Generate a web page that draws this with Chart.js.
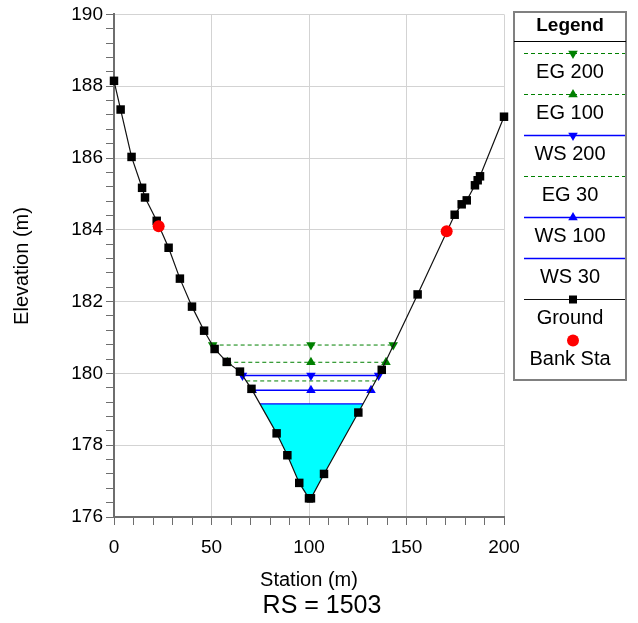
<!DOCTYPE html>
<html>
<head>
<meta charset="utf-8">
<title>RS = 1503</title>
<script src="https://cdn.jsdelivr.net/npm/chart.js@4.4.1/dist/chart.umd.min.js"></script>
<style>
body { margin: 0; background: #fff; }
</style>
</head>
<body>
<canvas id="myChart" width="638" height="623"></canvas>
<script>
//--- Data
var groundSta = [0, 3.4, 9.0, 14.4, 15.9, 21.9, 28.0, 33.8, 40.0, 46.2, 51.6, 57.8, 64.6, 70.5, 83.4, 88.9, 95.0, 100.0, 101.0, 107.7, 125.3, 137.3, 155.7, 174.7, 178.3, 180.9, 185.1, 186.5, 187.7, 200.0];
var groundElev = [188.15, 187.35, 186.03, 185.17, 184.9, 184.25, 183.5, 182.64, 181.86, 181.19, 180.68, 180.32, 180.05, 179.57, 178.33, 177.72, 176.95, 176.52, 176.52, 177.2, 178.91, 180.1, 182.2, 184.42, 184.71, 184.82, 185.24, 185.38, 185.49, 187.15];
var bankSta = [22.9, 170.6];
var bankElev = [184.1, 183.96];

var eg200Sta = [50.6, 101.0, 143.2];
var eg200Elev = 180.79;
var eg100Sta = [58.1, 101.0, 139.5];
var eg100Elev = 180.31;
var ws200Sta = [65.9, 101.0, 135.7];
var ws200Elev = 179.94;
var eg30Sta = [67.8, 134.4];
var eg30Elev = 179.79;
var ws100Sta = [70.9, 101.0, 131.8];
var ws100Elev = 179.53;
var ws30Sta = [74.9, 127.7];
var ws30Elev = 179.15;

var xTicks = [0, 50, 100, 150, 200];
var yTicks = [176, 178, 180, 182, 184, 186, 188, 190];
var legendOrder = ['EG 200', 'EG 100', 'WS 200', 'EG 30', 'WS 100', 'WS 30', 'Ground', 'Bank Sta'];

var FONT = "'Liberation Sans', Arial, sans-serif";
var green = '#008000';
var blue = '#0000ff';

//--- helpers
function pts(sta, elev) {
    return sta.map(function (s, i) {
        return { x: s, y: Array.isArray(elev) ? elev[i] : elev };
    });
}

// water area under WS 30: surface end points + ground points in between
var fillPts = [{ x: ws30Sta[0], y: ws30Elev }];
groundSta.forEach(function (s, i) {
    if (s > ws30Sta[0] && s < ws30Sta[ws30Sta.length - 1]) fillPts.push({ x: s, y: groundElev[i] });
});
fillPts.push({ x: ws30Sta[ws30Sta.length - 1], y: ws30Elev });

function profile(label, sta, elev, color, dash, style, rot, order) {
    return {
        label: label,
        data: pts(sta, elev),
        borderColor: color,
        borderWidth: dash.length ? 1 : 1.4,
        borderDash: dash,
        pointStyle: style || 'circle',
        pointRadius: style ? 5.5 : 0,
        pointRotation: rot || 0,
        pointBackgroundColor: color,
        pointBorderColor: color,
        pointBorderWidth: 0,
        fill: false,
        order: order
    };
}

function drawMarker(ctx, style, rot, r, x, y, color) {
    ctx.save();
    ctx.fillStyle = color;
    ctx.beginPath();
    if (style === 'rect') {
        ctx.rect(x - r, y - r, 2 * r, 2 * r);
    } else if (style === 'triangle') {
        var a = rot * Math.PI / 180;
        for (var k = 0; k < 3; k++) {
            var px = x + Math.sin(a) * r, py = y - Math.cos(a) * r;
            if (k === 0) ctx.moveTo(px, py); else ctx.lineTo(px, py);
            a += 2 * Math.PI / 3;
        }
        ctx.closePath();
    } else {
        ctx.arc(x, y, r, 0, 2 * Math.PI);
    }
    ctx.fill();
    ctx.restore();
}

//--- legend box and titles
var hecPlugin = {
    id: 'hecPlugin',
    afterDraw: function (chart) {
        var ctx = chart.ctx;
        ctx.save();
        // axis titles
        ctx.fillStyle = '#000';
        ctx.textAlign = 'center';
        ctx.textBaseline = 'middle';
        ctx.font = '20px ' + FONT;
        ctx.fillText('Station (m)', 309, 580);
        ctx.save();
        ctx.translate(22, 266);
        ctx.rotate(-Math.PI / 2);
        ctx.fillText('Elevation (m)', 0, 0);
        ctx.restore();
        ctx.font = '25px ' + FONT;
        ctx.fillText('RS = 1503', 322, 606);

        // legend
        var L = 514, R = 626, T = 12, B = 380, cx = (L + R) / 2;
        ctx.fillStyle = '#fff';
        ctx.fillRect(L, T, R - L, B - T);
        ctx.strokeStyle = '#808080';
        ctx.lineWidth = 2;
        ctx.strokeRect(L, T, R - L, B - T);
        ctx.strokeStyle = '#000';
        ctx.lineWidth = 1;
        ctx.beginPath();
        ctx.moveTo(L, 41.5);
        ctx.lineTo(R, 41.5);
        ctx.stroke();
        ctx.fillStyle = '#000';
        ctx.font = 'bold 19px ' + FONT;
        ctx.fillText('Legend', cx, 26);

        ctx.font = '20px ' + FONT;
        legendOrder.forEach(function (name, i) {
            var ds = chart.data.datasets.filter(function (d) { return d.label === name; })[0];
            var ly = 53.5 + i * 41;
            if (ds.showLine !== false) {
                ctx.save();
                ctx.strokeStyle = ds.borderColor;
                ctx.lineWidth = ds.borderWidth;
                ctx.setLineDash(ds.borderDash || []);
                ctx.beginPath();
                ctx.moveTo(524, ly);
                ctx.lineTo(625, ly);
                ctx.stroke();
                ctx.restore();
            }
            if (ds.pointRadius > 0) {
                var r = ds.pointStyle === 'rect' ? 4 : ds.pointRadius;
                drawMarker(ctx, ds.pointStyle, ds.pointRotation || 0, r, 573, ly, ds.pointBackgroundColor);
            }
            ctx.fillStyle = '#000';
            ctx.fillText(name, cx, ly + 19);
        });
        ctx.restore();
    }
};

//--- chart
var ctx = document.getElementById('myChart');
var myChart = new Chart(ctx, {
    type: 'line',
    data: {
        datasets: [
            {
                label: 'WS 30 area',
                data: fillPts,
                fill: 'shape',
                backgroundColor: '#00ffff',
                borderWidth: 0,
                pointRadius: 0,
                order: 20
            },
            profile('EG 200', eg200Sta, eg200Elev, green, [4, 3], 'triangle', 180, 8),
            profile('EG 100', eg100Sta, eg100Elev, green, [4, 3], 'triangle', 0, 7),
            profile('WS 200', ws200Sta, ws200Elev, blue, [], 'triangle', 180, 6),
            profile('EG 30', eg30Sta, eg30Elev, green, [4, 3], null, 0, 9),
            profile('WS 100', ws100Sta, ws100Elev, blue, [], 'triangle', 0, 5),
            profile('WS 30', ws30Sta, ws30Elev, blue, [], null, 0, 10),
            {
                label: 'Ground',
                data: pts(groundSta, groundElev),
                borderColor: '#111',
                borderWidth: 1.2,
                pointStyle: 'rect',
                pointRadius: 6,
                pointBackgroundColor: '#000',
                pointBorderColor: '#000',
                pointBorderWidth: 0,
                fill: false,
                clip: false,
                order: 2
            },
            {
                label: 'Bank Sta',
                data: pts(bankSta, bankElev),
                showLine: false,
                pointStyle: 'circle',
                pointRadius: 6,
                pointBackgroundColor: '#ff0000',
                pointBorderColor: '#ff0000',
                pointBorderWidth: 0,
                clip: false,
                order: 1
            }
        ]
    },
    options: {
        responsive: false,
        animation: false,
        events: [],
        layout: { padding: { top: 13, right: 134, left: 0, bottom: 0 } },
        plugins: {
            legend: { display: false },
            tooltip: { enabled: false }
        },
        scales: {
            x: {
                type: 'linear',
                min: xTicks[0],
                max: xTicks[xTicks.length - 1],
                afterBuildTicks: function (axis) {
                    var t = [];
                    for (var v = xTicks[0]; v <= xTicks[xTicks.length - 1]; v += 10) t.push({ value: v });
                    axis.ticks = t;
                },
                afterFit: function (axis) { axis.height = 106; },
                grid: {
                    color: function (c) { return c.tick && xTicks.indexOf(c.tick.value) >= 0 ? '#d3d3d3' : 'rgba(0,0,0,0)'; },
                    tickColor: '#6e6e6e',
                    tickLength: 8
                },
                border: { color: '#6e6e6e', width: 2 },
                ticks: {
                    autoSkip: false,
                    maxRotation: 0,
                    padding: 11,
                    color: '#000',
                    font: { size: 19, family: FONT },
                    callback: function (v) { return xTicks.indexOf(v) >= 0 ? String(v) : ''; }
                }
            },
            y: {
                min: yTicks[0],
                max: yTicks[yTicks.length - 1],
                afterBuildTicks: function (axis) {
                    var t = [];
                    for (var i = 0; i <= (yTicks.length - 1) * 5; i++) t.push({ value: yTicks[0] + i * 0.4 });
                    axis.ticks = t;
                },
                afterFit: function (axis) { axis.width = 114; },
                grid: {
                    color: function (c) {
                        var v = c.tick ? c.tick.value : 0;
                        return Math.abs(v - Math.round(v)) < 1e-6 && Math.round(v) % 2 === 0 ? '#d3d3d3' : 'rgba(0,0,0,0)';
                    },
                    tickColor: '#6e6e6e',
                    tickLength: 8
                },
                border: { color: '#6e6e6e', width: 2 },
                ticks: {
                    autoSkip: false,
                    padding: 3,
                    color: '#000',
                    font: { size: 19, family: FONT },
                    callback: function (v) {
                        var r = Math.round(v);
                        return Math.abs(v - r) < 1e-6 && yTicks.indexOf(r) >= 0 ? String(r) : '';
                    }
                }
            }
        }
    },
    plugins: [hecPlugin]
});
</script>
</body>
</html>
